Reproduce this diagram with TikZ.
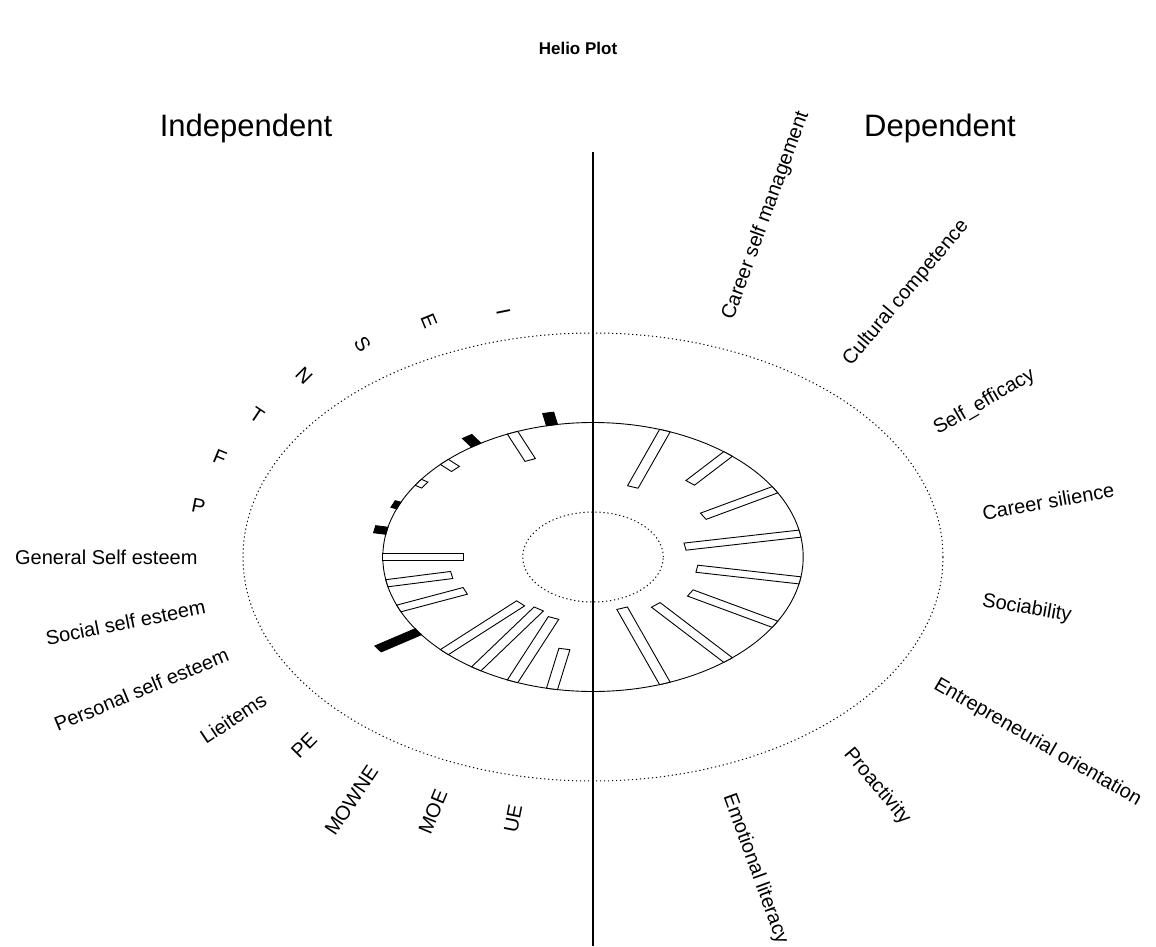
\documentclass[tikz,border=0pt]{standalone}
\usepackage{fontspec}
\setmainfont{Liberation Sans}
\begin{document}
\begin{tikzpicture}[x=1pt,y=1pt,
  ring/.style={line width=0.9pt},
  dotring/.style={line width=1pt, dash pattern=on 1.2pt off 2.8pt},
  negbar/.style={draw, fill=white, line width=0.9pt, line join=miter},
  posbar/.style={draw, fill=black, line width=0.9pt, line join=miter},
  lbl/.style={font=\fontsize{20}{24}\selectfont, inner sep=0pt},
  hdr/.style={font=\fontsize{31}{36}\selectfont, inner sep=0pt},
  ttl/.style={font=\bfseries\fontsize{17}{20}\selectfont, inner sep=0pt}]
\useasboundingbox[fill=white] (-593,-389) rectangle (563,557);
% title and headers
\node[ttl] (title) at (-15,509) {Helio Plot};
\node[hdr, anchor=base] (indep) at (-347,420) {Independent};
\node[hdr, anchor=base] (dep) at (347,420) {Dependent};
% rings
\draw[dotring] (0,0) ellipse [x radius=350, y radius=224];
\draw[ring] (0,0) ellipse [x radius=210.2, y radius=134.5];
\draw[dotring] (0,0) ellipse [x radius=70.3, y radius=45];
% bars
\begin{scope}[xscale=1.5625]
  \foreach \a/\l in {112.5/29.5, 135/10, 146.25/5, 180/51.6, 191.25/42.3, 202.5/46,
                     225/69, 236.25/72, 247.5/68.5, 258.75/40.7,
                     70/60, 50/37.7, 30/53, 10/74.7, -10/67, -30/62.6, -50/72, -70/80}
    \draw[negbar, rotate=\a] ({134.5-\l},-3.6) -- (134.5,-3.6) -- (134.5,3.6) -- ({134.5-\l},3.6) -- cycle;
  \foreach \a/\l in {101.25/12.5, 123.75/10.5, 157.5/4, 168.75/8, 213.75/31}
    \draw[posbar, rotate=\a] (134.5,-3.6) -- ({134.5+\l},-3.6) -- ({134.5+\l},3.6) -- (134.5,3.6) -- cycle;
\end{scope}
% vertical divider
\coordinate (vtop) at (0,405);
\coordinate (vbot) at (0,-389);
\draw[line width=1.2pt] (vtop) -- (vbot);
% left labels (angle / text / name / x shift / y shift)
\foreach \a/\t/\n/\dx/\dy in {101.25/I/xI/-12/-6, 112.5/E/xE/-10/-4, 123.75/S/xS/-7/-3,
                      135/N/xN/-4/-2.5, 146.25/T/xT/-2/-2.5, 157.5/F/xF/-2/0, 168.75/P/xP/0/0,
                      180/General Self esteem/xGSE/0/0,
                      191.25/Social self esteem/xSSE/0/0, 202.5/Personal self esteem/xPSE/0/0,
                      213.75/Lieitems/xLie/0/0, 225/PE/xPE/0/0, 236.25/MOWNE/xMOWNE/0/0,
                      247.5/MOE/xMOE/0/0, 258.75/UE/xUE/0/0}
  \node[lbl, anchor=east, rotate=\a-180] (\n) at ({1.5625*253*cos(\a)+\dx},{253*sin(\a)+\dy}) {\t};
% right labels
\foreach \a/\t/\n in {70/Career self management/yCSM, 50/Cultural competence/yCC,
                      30/Self\_efficacy/ySE, 10/Career silience/yCS, -10/Sociability/ySoc,
                      -30/Entrepreneurial orientation/yEO, -50/Proactivity/yPro,
                      -70/Emotional literacy/yEL}
  \node[lbl, anchor=west, rotate=\a] (\n) at ({1.5625*253*cos(\a)},{253*sin(\a)}) {\t};
\end{tikzpicture}
\end{document}
